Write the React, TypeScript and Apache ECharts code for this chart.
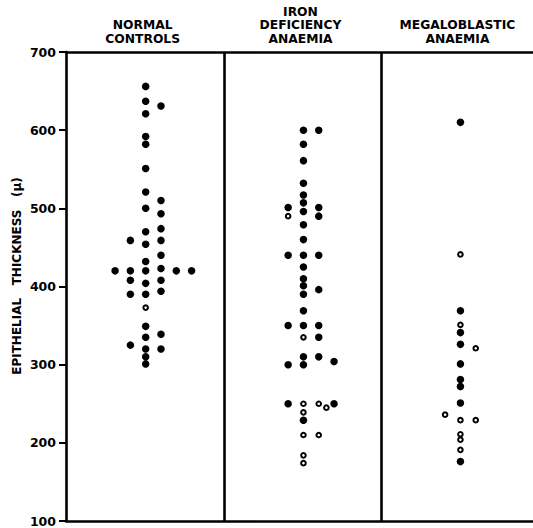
import { useEffect, useRef } from "react";
import * as echarts from "echarts";

const groupTitles = ["NORMAL\nCONTROLS", "IRON\nDEFICIENCY\nANAEMIA", "MEGALOBLASTIC\nANAEMIA"];
const groupCentres = [0.505, 1.505, 2.5];
const groupDividers = [1, 2];
const LANE = 0.097;

const yTickValues = [100, 200, 300, 400, 500, 600, 700];

// [lane, epithelial thickness]
const normalFilled: [number, number][] = [
  [0, 656], [0, 637], [1, 631], [0, 621], [0, 592], [0, 582], [0, 551], [0, 521],
  [1, 510], [0, 500], [1, 493], [0, 470], [1, 474], [-1, 459], [1, 459], [0, 454],
  [1, 440], [0, 432], [1, 423], [-2, 420], [-1, 420], [0, 420], [2, 420], [3, 420],
  [-1, 408], [0, 404], [1, 408], [1, 394], [-1, 390], [0, 390], [0, 349], [1, 339],
  [0, 335], [-1, 325], [0, 320], [1, 320], [0, 310], [0, 301],
];
const normalOpen: [number, number][] = [[0, 373]];

const ironFilled: [number, number][] = [
  [0, 600], [1, 600], [0, 582], [0, 561], [0, 532], [0, 517], [0, 507], [-1, 501],
  [1, 501], [0, 496], [1, 490], [0, 479], [0, 460], [-1, 440], [0, 440], [1, 440],
  [0, 425], [0, 410], [0, 401], [1, 396], [0, 390], [0, 369], [-1, 350], [0, 350],
  [1, 350], [1, 335], [0, 310], [1, 310], [2, 304], [-1, 300], [0, 300], [-1, 250],
  [2, 250], [0, 229],
];
const ironOpen: [number, number][] = [
  [-1, 490], [0, 335], [0, 250], [1, 250], [1.5, 245], [0, 239], [0, 210], [1, 210],
  [0, 184], [0, 174],
];

const megaFilled: [number, number][] = [
  [0, 610], [0, 369], [0, 341], [0, 326], [0, 301], [0, 281], [0, 272], [0, 251], [0, 176],
];
const megaOpen: [number, number][] = [
  [0, 441], [0, 351], [1, 321], [-1, 236], [0, 229], [1, 229], [0, 211], [0, 204], [0, 191],
];

const FONT = "DejaVu Sans";
const X_MAX = 2.96;

export default function App() {
  const ref = useRef<HTMLDivElement>(null);
  useEffect(() => {
    const chart = echarts.init(ref.current!, null, { renderer: "svg" });
    const place = (g: number, pts: [number, number][]) =>
      pts.map(([lane, v]) => [groupCentres[g] + lane * LANE, v]);
    const filled = [
      ...place(0, normalFilled),
      ...place(1, ironFilled),
      ...place(2, megaFilled),
    ];
    const open = [...place(0, normalOpen), ...place(1, ironOpen), ...place(2, megaOpen)];
    const frame = { color: "#000", width: 2.6 };
    const xBase = {
      type: "value",
      min: 0,
      max: X_MAX,
      axisLine: { show: true, onZero: false, lineStyle: frame },
      axisTick: { show: false },
      axisLabel: { show: false },
      splitLine: { show: false },
    };
    chart.setOption({
      animation: false,
      backgroundColor: "#fff",
      grid: { left: 66, right: 0, top: 52, bottom: 7, containLabel: false },
      xAxis: [
        { ...xBase, position: "bottom" },
        { ...xBase, position: "top" },
      ],
      yAxis: {
        type: "value",
        min: 100,
        max: 700,
        interval: 100,
        axisLine: { show: true, lineStyle: frame },
        axisTick: { show: true, length: 7, lineStyle: { color: "#000", width: 2 } },
        axisLabel: {
          color: "#000",
          fontFamily: FONT,
          fontWeight: "bold",
          fontSize: 12.5,
          margin: 10,
          formatter: (v: number) => (yTickValues.includes(v) ? String(v) : ""),
        },
        splitLine: { show: false },
      },
      series: [
        {
          type: "scatter",
          xAxisIndex: 0,
          data: filled,
          symbol: "circle",
          symbolSize: 7.5,
          itemStyle: { color: "#000", opacity: 1 },
          silent: true,
          markLine: {
            silent: true,
            symbol: "none",
            label: { show: false },
            lineStyle: { color: "#000", width: 2.6, type: "solid" },
            data: groupDividers.map((d) => ({ xAxis: d })),
          },
        },
        {
          type: "scatter",
          xAxisIndex: 0,
          data: open,
          symbol: "circle",
          symbolSize: 4.6,
          itemStyle: { color: "#fff", borderColor: "#000", borderWidth: 2, opacity: 1 },
          silent: true,
        },
      ],
    });
    const titles = groupTitles.map((t, i) => {
      const x = chart.convertToPixel({ xAxisIndex: 0 }, groupCentres[i]) as number;
      return {
        type: "text",
        x: x - 3,
        y: 45.5,
        style: {
          text: t,
          fill: "#000",
          font: `bold 12.3px "${FONT}"`,
          lineHeight: 13.5,
          align: "center",
          verticalAlign: "bottom",
        },
      };
    });
    chart.setOption({
      graphic: [
        ...titles,
        {
          type: "text",
          x: 17,
          y: 276,
          rotation: Math.PI / 2,
          style: {
            text: "EPITHELIAL   THICKNESS   (μ)",
            fill: "#000",
            font: `bold 12px "${FONT}"`,
            align: "center",
            verticalAlign: "middle",
          },
        },
      ],
    });
    return () => chart.dispose();
  }, []);
  return (
    <div
      ref={ref}
      style={{ position: "absolute", left: 0, top: 0, width: 533, height: 528, background: "#fff" }}
    />
  );
}
